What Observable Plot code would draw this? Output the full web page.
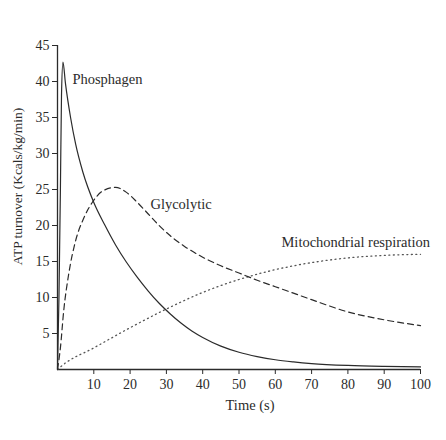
<!DOCTYPE html>
<html>
<head>
<meta charset="utf-8">
<script src="https://cdn.jsdelivr.net/npm/d3@7"></script>
<script src="https://cdn.jsdelivr.net/npm/@observablehq/plot@0.6"></script>
<style>
  body { margin: 0; background: #fff; }
</style>
</head>
<body>
<div id="chart"></div>
<script>
// values (time in s, ATP turnover)
const phosT = [0, 0.4, 0.8, 1.1, 1.5, 2.2, 3.6, 5, 7, 10, 13, 16, 19, 22, 25, 28, 31, 34, 37, 40, 45, 50, 55, 60, 65, 70, 80, 90, 100];
const phosV = [0, 10, 25, 38, 42.7, 39.7, 35.0, 31.3, 27.4, 23.2, 20.1, 17.3, 14.9, 12.8, 10.9, 9.2, 7.75, 6.45, 5.35, 4.45, 3.25, 2.4, 1.8, 1.35, 1.05, 0.82, 0.56, 0.43, 0.36];

const glyT = [0, 0.8, 1.7, 3.1, 5, 7.3, 9.7, 12.5, 16, 19, 22, 25, 28, 31, 35, 40, 45, 50, 55, 60, 65, 70, 80, 90, 100];
const glyV = [0, 3.0, 8.1, 13.3, 17.9, 21.1, 23.3, 24.8, 25.3, 24.6, 23.2, 21.6, 20.0, 18.6, 17.1, 15.6, 14.4, 13.4, 12.4, 11.5, 10.6, 9.7, 8.0, 6.9, 6.1];

const mitoT = [0, 1.4, 10, 20, 30, 40, 50, 57.8, 65, 72, 80, 90, 100];
const mitoV = [0, 0.6, 3.0, 5.8, 8.4, 10.7, 12.5, 13.6, 14.4, 15.0, 15.5, 15.85, 16.0];

const seriesNames = ["Phosphagen", "Glycolytic", "Mitochondrial respiration"];
const xTicks = [10, 20, 30, 40, 50, 60, 70, 80, 90, 100];
const yTicks = [5, 10, 15, 20, 25, 30, 35, 40, 45];

const toRows = (ts, vs) => ts.map((t, i) => ({t, v: vs[i]}));
const phos = toRows(phosT, phosV);
const gly = toRows(glyT, glyV);
const mito = toRows(mitoT, mitoV);

// label anchors in data space
const labels = [
  {name: seriesNames[0], t: 4.1, v: 40.3},
  {name: seriesNames[1], t: 25.6, v: 22.9},
  {name: seriesNames[2], t: 61.7, v: 17.7}
];

const ink = "#2b2b2b";
const serif = "'Liberation Serif', 'Times New Roman', Times, serif";

const chart = Plot.plot({
  width: 446,
  height: 440,
  marginLeft: 57,
  marginRight: 26,
  marginTop: 45,
  marginBottom: 71,
  x: {domain: [0, 100]},
  y: {domain: [0, 45]},
  style: {fontFamily: serif, fontSize: "14px", color: ink, background: "#fff"},
  marks: [
    Plot.axisX({ticks: xTicks, tickSize: 5, tickPadding: 5, label: null, fontSize: 14}),
    Plot.axisY({ticks: yTicks, tickSize: 5, tickPadding: 3, label: null, fontSize: 14}),
    Plot.ruleY([0], {stroke: ink, strokeWidth: 1.3}),
    Plot.ruleX([0], {stroke: ink, strokeWidth: 1.3}),
    Plot.line(mito, {x: "t", y: "v", curve: "monotone-x", stroke: "#555", strokeWidth: 1.3,
      strokeDasharray: "1,3.5", strokeLinecap: "round"}),
    Plot.line(gly, {x: "t", y: "v", curve: "monotone-x", stroke: ink, strokeWidth: 1.2,
      strokeDasharray: "6,4"}),
    Plot.line(phos, {x: "t", y: "v", curve: "monotone-x", stroke: ink, strokeWidth: 1.2}),
    Plot.text(labels, {x: "t", y: "v", text: "name", textAnchor: "start", fontSize: 14.5, fill: ink}),
    Plot.text(["Time (s)"], {frameAnchor: "bottom", dy: 40, dx: 11, fontSize: 14.5, fill: ink}),
    Plot.text(["ATP turnover (Kcals/kg/min)"], {frameAnchor: "left", textAnchor: "middle", rotate: -90,
      dx: -40, dy: -21, fontSize: 13.5, fill: ink})
  ]
});

document.getElementById("chart").append(chart);
</script>
</body>
</html>
